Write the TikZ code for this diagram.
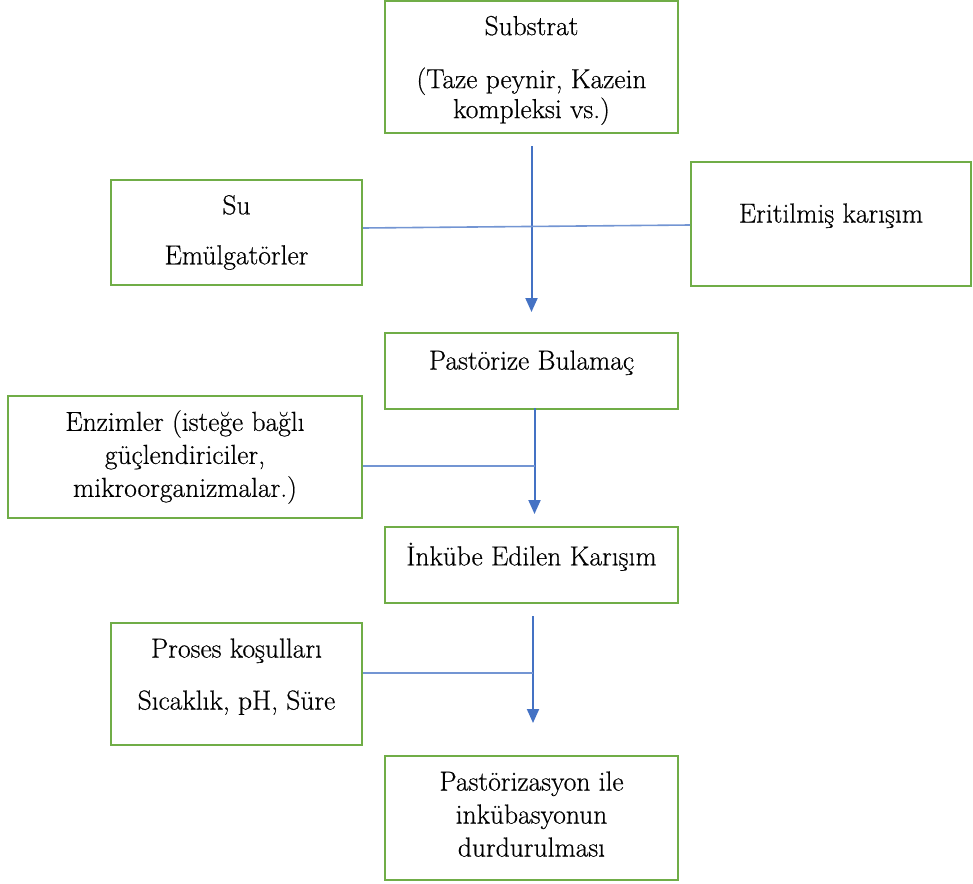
\documentclass[tikz,border=0pt]{standalone}
\usepackage{fontspec}
\newfontfamily\boxfont{Latin Modern Roman}[FakeBold=0.5]
\usetikzlibrary{arrows.meta}
\definecolor{boxgreen}{HTML}{70AD47}
\definecolor{lineblue}{HTML}{4472C4}
\begin{document}
\begin{tikzpicture}[x=1pt,y=-1pt,
  box/.style={draw=boxgreen,line width=2pt,align=center,inner sep=0pt,
    font=\boxfont\fontsize{27.5}{33}\selectfont},
  arr/.style={draw=lineblue,line width=2pt,-{Triangle[width=12pt,length=14pt]}},
  hline/.style={draw=lineblue!75!white,line width=1.6pt}]
\useasboundingbox (0,0) rectangle (973,883);
\node[box,minimum width=293pt,minimum height=132pt,text depth=0pt] (sub) at (531.5,67)
  {Substrat\\[20pt](Taze peynir, Kazein\\[-3pt]kompleksi vs.)};
\node[box,minimum width=251pt,minimum height=105pt] (su) at (236.5,232.5)
  {Su\\[17pt]Emülgatörler};
\node[box,minimum width=280pt,minimum height=124pt,text depth=22pt] (erit) at (831,224)
  {Eritilmiş karışım};
\node[box,minimum width=293pt,minimum height=76pt,text depth=22pt] (past) at (531.5,371)
  {Pastörize Bulamaç};
\node[box,minimum width=354pt,minimum height=122pt] (enz) at (185,457)
  {Enzimler (isteğe bağlı\\güçlendiriciler,\\mikroorganizmalar.)};
\node[box,minimum width=293pt,minimum height=76pt,text depth=22pt] (inku) at (531.5,565)
  {İnkübe Edilen Karışım};
\node[box,minimum width=251pt,minimum height=122pt,text depth=20pt] (proses) at (236.5,684)
  {Proses koşulları\\[19pt]Sıcaklık, pH, Süre};
\node[box,minimum width=293pt,minimum height=124pt,text depth=8pt] (stop) at (531.5,818)
  {Pastörizasyon ile\\inkübasyonun\\durdurulması};
\coordinate (j2) at (534.5,466);
\coordinate (j3) at (533,673);
\draw[arr] ([yshift=-12pt]sub.south) -- ([yshift=20pt]past.north);
\draw[hline] ([yshift=4.5pt]su.east) -- ([yshift=-1pt]erit.west);
\draw[arr] ([xshift=3pt,yshift=2pt]past.south) -- ([xshift=3pt,yshift=12pt]inku.north);
\draw[hline] ([yshift=-9pt]enz.east) -- (j2);
\draw[arr] ([xshift=1.5pt,yshift=-12pt]inku.south) -- ([xshift=1.5pt,yshift=32pt]stop.north);
\draw[hline] ([yshift=11pt]proses.east) -- (j3);
\end{tikzpicture}
\end{document}
